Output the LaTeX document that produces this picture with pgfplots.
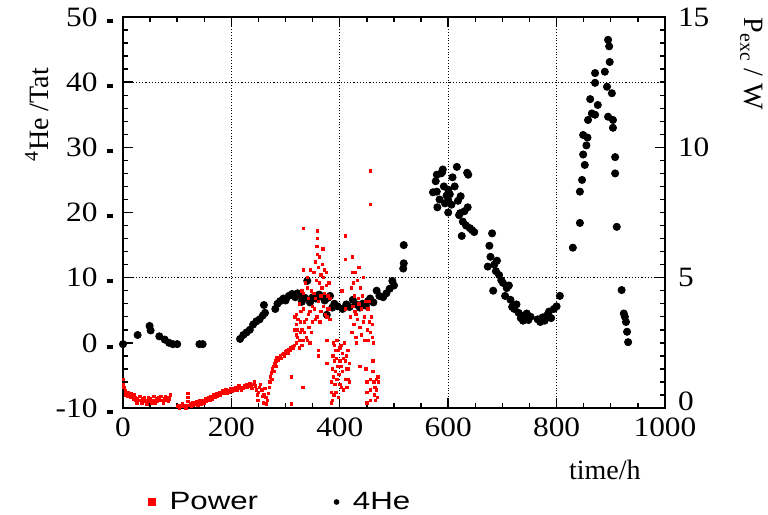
\documentclass[border=0pt]{standalone}
\usepackage{fontspec}
\setmainfont[FakeStretch=1.12]{Liberation Serif}
\newfontfamily\lblfont{Liberation Serif}
\newfontfamily\legfont[FakeStretch=1.25]{Liberation Sans}
\usepackage{pgfplots}
\pgfplotsset{compat=1.18}

\newcommand{\dsh}{\hspace{4.5pt}\rule[0.12em]{3.2pt}{2pt}}

\pgfplotsset{
  base/.style={
    at={(0,0)}, anchor=south west,
    scale only axis, width=271pt, height=195.5pt,
    xmin=0, xmax=1000,
    tick label style={font=\rmfamily\fontsize{14}{16}\selectfont},
    label style={font=\lblfont\fontsize{14}{16}\selectfont},
    axis line style={line width=0.9pt},
    tick style={black, line width=0.7pt},
    major tick length=5pt, minor tick length=2.5pt,
  },
}

\begin{document}
\begin{tikzpicture}
\useasboundingbox (-61.5pt,-53.5pt) rectangle (322.5pt,204pt);

% left axis: 4He
\begin{axis}[
  base,
  ymin=-10, ymax=50,
  xtick={0,200,400,600,800,1000}, minor x tick num=3,
  xticklabels={0,200,400,600,800,1000},
  ytick={-10,0,10,20,30,40,50}, minor y tick num=4,
  yticklabels={{-10\dsh},{0\dsh},{10\dsh},{20\dsh},{30\dsh},{40\dsh},{50\dsh}},
  xtick pos=both, xticklabel pos=lower,
  ytick pos=left,
  yticklabel style={xshift=-1.5pt},
  xticklabel style={yshift=-1.5pt},
  xmajorgrids,
  grid style={densely dotted, black, line width=0.6pt},
  ylabel={\textsuperscript{4}He /Tat},
  ylabel style={at={(axis description cs:-0.159,0.75)}, anchor=center},
  xlabel={time/h},
  xlabel style={at={(axis description cs:0.889,-0.1586)}, anchor=center},
]
% horizontal grid lines at 10 and 40
\addplot[densely dotted, black, line width=0.6pt, forget plot] coordinates {(0,10)(1000,10)};
\addplot[densely dotted, black, line width=0.6pt, forget plot] coordinates {(0,40)(1000,40)};
\addplot[only marks, mark=*, mark size=1.8pt, black] coordinates {
(0,-0.2)(27,1.2)(49,2.6)(51,1.9)(67,1.0)(77,0.5)(85,0)(92,-0.2)(100,-0.2)(141,-0.2)(147,-0.2)
(216,0.6)(222,1.2)(228,1.6)(234,2.0)(240,2.8)(246,3.3)(252,3.6)(258,4.2)(262,4.6)(260,5.8)
(281,5.2)(285,6.0)(290,6.4)(296,6.8)(300,6.5)(306,7.2)(312,7.5)(318,7.0)(322,7.6)(327,7.3)
(330,6.3)(336,6.9)(340,9.5)(345,6.2)(350,7.0)(356,6.8)(362,7.4)(367,7.1)(372,6.5)(378,6.9)
(382,7.2)(386,5.4)(376,4.3)(390,6.0)(396,5.6)(405,5.2)(412,5.9)(418,5.5)(424,6.6)(430,5.9)
(437,5.4)(442,6.0)(448,5.7)(452,6.4)(456,6.8)(462,6.2)(468,8.0)(473,7.2)(480,7.0)(486,7.6)
(492,8.3)(497,9.5)(500,8.8)(517,11.4)(518,12.2)(518,15.0)
(572,23.1)(577,24.8)(579,25.8)(579,23.2)(580,20.8)(584,22.0)(587,26.0)(589,26.2)(590,26.6)
(592,24.0)(594,21.4)(597,22.6)(600,20.0)(600,23.5)(600,21.9)(603,22.8)(606,21.2)(608,25.4)
(612,24.0)(616,27.0)(618,21.8)(620,19.6)(622,19.9)(623,22.5)(625,16.4)(627,18.6)(630,20.2)
(633,18.0)(635,26.1)(636,20.8)(637,25.8)(640,17.6)(644,17.3)(648,17.0)
(673,11.7)(676,14.9)(678,13.2)(681,16.8)(683,8.0)(685,12.0)(688,11.0)(690,12.6)(694,10.4)
(698,9.6)(701,9.2)(705,7.2)(708,8.4)(712,8.8)(715,6.6)(718,5.5)(722,5.2)(726,5.9)(730,4.6)
(734,3.8)(738,3.4)(740,4.2)(745,4.5)(748,3.5)(752,4.0)(765,3.6)(770,3.2)(774,3.9)(778,3.4)
(782,4.2)(786,4.8)(790,3.8)(795,5.2)(800,5.6)(806,7.2)
(830,14.6)(843,18.4)(843,23.2)(847,25.0)(849,28.9)(852,27.3)(855,30.3)(857,31.5)(849,31.9)
(858,34.2)(862,37.4)(865,35.2)(871,35.0)(871,39.9)(871,41.4)(876,36.5)(889,41.6)(893,39.3)
(895,34.7)(895,46.5)(897,45.5)(898,43.1)(902,38.3)(904,34.2)(904,33.0)(908,28.5)(908,26.0)
(911,17.8)(920,8.1)(924,4.5)(926,4.0)(928,3.2)(930,1.7)(932,0.1)
};
\end{axis}

% right axis: excess power
\begin{axis}[
  base,
  ymin=0, ymax=15,
  axis x line=none, axis y line*=right,
  ytick={0,5,10,15}, minor y tick num=9,
  yticklabels={\raisebox{7pt}{0},5,10,15},
  yticklabel style={xshift=3pt},
  ylabel={P\textsubscript{exc} / W},
  ylabel style={at={(axis description cs:1.16,0.88)}, anchor=center, rotate=180},
  legend columns=2,
  legend style={at={(axis description cs:0.035,-0.2404)}, anchor=west, draw=none, fill=none,
    font=\legfont\fontsize{12.5}{14}\selectfont,
    /tikz/every odd column/.append style={column sep=5pt},
    /tikz/every even column/.append style={column sep=36pt}},
]
\addplot[only marks, mark=square*, mark size=0.6pt, red, mark options={draw=red, fill=red},
  legend image post style={mark size=1.8pt}] coordinates {
(1,1.1)(1,0.9)(2,0.8)(4,0.65)(5,0.5)(7,0.6)(9,0.45)(10,0.6)(12,0.5)(14,0.4)(15,0.55)(17,0.45)(19,0.35)(20,0.5)
(22,0.4)(24,0.3)(26,0.2)(27,0.35)(29,0.3)(31,0.45)(33,0.3)(35,0.2)(36,0.35)(38,0.25)(40,0.4)(42,0.3)(44,0.15)
(45,0.3)(47,0.4)(49,0.25)(51,0.35)(53,0.2)(55,0.3)(57,0.45)(58,0.3)(60,0.2)(62,0.35)(64,0.25)(66,0.4)(68,0.3)
(70,0.45)(72,0.3)(74,0.2)(76,0.35)(78,0.45)(80,0.3)(82,0.4)(84,0.25)(86,0.35)(88,0.5)
(100,0.05)(102,0.1)(104,0.0)(106,0.1)(108,0.05)(110,0.15)(112,0.05)(114,0.1)(116,0.0)(118,0.1)(120,0.55)
(120,0.4)(120,0.25)(122,0.1)(124,0.15)(126,0.05)(128,0.2)(130,0.1)(132,0.2)(134,0.15)(136,0.25)(138,0.1)
(140,0.2)(142,0.3)(144,0.15)(146,0.25)(148,0.3)(150,0.2)(152,0.35)(154,0.25)(156,0.3)(158,0.4)(160,0.3)
(162,0.45)(164,0.35)(166,0.4)(168,0.5)(170,0.4)(172,0.55)(174,0.45)(176,0.5)(178,0.6)(180,0.5)(182,0.55)
(184,0.65)(186,0.55)(188,0.6)(190,0.7)(192,0.55)(194,0.65)(196,0.6)(198,0.75)
(200,0.7)(202,0.65)(204,0.75)(206,0.7)(208,0.8)(210,0.7)(212,0.75)(214,0.85)(216,0.75)(218,0.7)(220,0.8)
(222,0.75)(224,0.85)(226,0.8)(228,0.9)(230,0.8)(232,0.85)(234,0.95)(236,0.85)(238,0.75)(240,0.9)(242,1.0)
(244,0.85)(246,0.7)(248,0.5)(249,0.3)(250,0.6)(252,0.8)(254,0.9)(256,0.7)(258,0.45)(259,0.2)(260,0.5)
(262,0.75)(264,0.4)(265,0.15)(266,0.3)(268,0.55)
(270,0.8)(271,1.0)(272,1.2)(274,1.35)(275,1.1)(276,1.5)(278,1.6)(279,1.4)(280,1.7)(282,1.8)(283,1.6)
(284,1.95)(286,1.85)(288,1.9)(290,2.0)(292,1.9)(294,2.05)(296,2.1)(298,2.0)(300,2.15)(302,2.2)(304,2.1)
(306,2.25)(308,2.2)(310,2.3)(311,1.2)(311,0.15)(312,2.35)(314,2.3)(316,2.4)(317,3.5)(317,3.0)
(320,2.5)(320,2.8)(320,3.2)(320,3.6)(322,2.7)(322,3.0)(323,3.4)(325,2.3)(325,2.6)(325,4.0)(327,2.9)
(327,3.3)(328,3.7)(330,2.4)(330,3.0)(330,4.5)(332,2.6)(332,0.8)(333,6.9)(333,5.3)(333,4.4)(333,3.8)
(335,2.9)(335,3.3)(336,4.8)(338,3.4)(338,2.7)(340,5.0)(340,4.6)(340,2.6)(342,4.2)(342,3.6)(343,3.1)
(345,3.7)(345,2.5)(346,5.3)(348,4.5)(348,2.9)(350,3.9)(350,3.3)
(352,5.2)(352,4.4)(353,3.8)(355,5.6)(355,4.2)(355,3.4)(357,4.9)(358,6.2)(358,3.5)(359,6.8)(359,6.5)
(359,6.2)(359,5.9)(360,5.4)(360,4.1)(360,2.2)(360,2.0)(362,4.8)(362,5.8)(363,3.3)(365,5.1)(365,4.3)
(365,3.7)(367,4.6)(368,5.5)(369,6.1)(370,3.9)(370,5.0)(372,4.4)(372,5.3)(373,3.6)(375,5.2)(375,4.7)
(376,3.5)(376,2.6)(376,1.7)(378,4.3)(378,3.8)(380,4.8)(380,3.8)(382,4.2)(382,3.4)
(384,0.2)(384,0.6)(385,1.0)(386,1.5)(386,0.3)(387,2.0)(388,1.2)(388,2.5)(389,0.5)(390,2.4)(390,1.8)
(391,0.9)(392,2.2)(392,1.4)(393,0.6)(394,1.9)(395,2.6)(395,1.1)(396,1.6)(397,2.2)(397,0.4)(398,1.3)
(400,2.3)(400,1.8)(400,0.9)(402,1.6)(402,2.4)(403,0.8)(404,4.5)(405,2.1)(405,1.4)(407,0.7)(407,1.9)
(408,2.5)(410,6.6)(410,5.7)(410,3.8)(410,1.8)(410,1.1)(412,2.0)(412,1.5)(413,0.8)(415,1.5)(415,2.2)
(416,1.1)(418,1.0)(418,1.7)
(420,3.5)(421,4.6)(422,2.9)(423,5.8)(424,3.9)(424,5.2)(425,4.8)(426,3.2)(427,4.3)(428,5.2)(428,3.7)
(430,3.6)(430,2.7)(431,2.5)(432,4.9)(433,3.4)(434,4.2)(435,5.4)(435,4.0)(437,3.1)(437,1.6)(438,4.6)
(440,3.8)(440,2.8)(442,4.3)(443,5.0)(444,3.3)(445,3.5)(446,2.6)(448,4.1)(448,1.5)
(450,1.0)(450,0.6)(450,0.2)(451,3.0)(452,3.8)(453,2.6)(455,3.3)(455,4.1)(456,9.1)(456,7.8)(456,1.1)
(456,0.7)(456,0.3)(457,2.9)(458,3.5)(460,2.7)(460,3.2)(461,1.8)(461,1.4)(462,2.5)(463,1.0)(464,0.5)
(465,0.8)(466,0.3)(467,1.1)(468,0.7)(469,0.4)(470,1.2)(471,1.0)
};
\addlegendentry{Power}
\addlegendimage{only marks, mark=*, mark size=1.2pt, black}
\addlegendentry{4He}
\end{axis}
\end{tikzpicture}
\end{document}
